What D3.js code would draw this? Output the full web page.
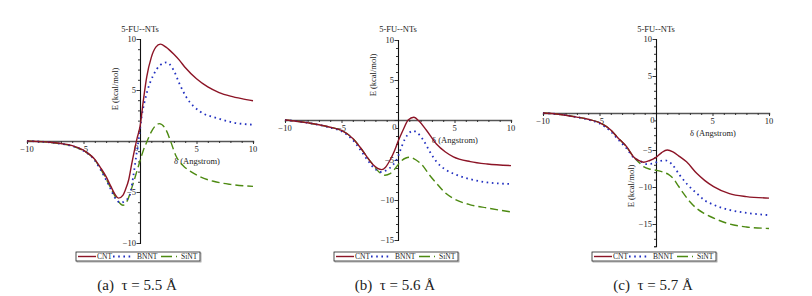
<!DOCTYPE html>
<html>
<head>
<meta charset="utf-8">
<script src="https://cdn.jsdelivr.net/npm/d3@7"></script>
<style>
  body { margin: 0; background: #fff; }
  svg { display: block; }
  text { font-family: "Liberation Serif", "Times New Roman", serif; fill: #222; }
</style>
</head>
<body>
<div class="graph"></div>
<script>
var W = 812, H = 296;

// series values: [delta, E]
var cntA = [[-10,0],[-9,-0.05],[-8,-0.12],[-7,-0.25],[-6,-0.45],[-5,-0.9],[-4,-1.8],[-3.5,-2.6],[-3,-3.5],[-2.6,-4.4],[-2.2,-5.25],[-1.9,-5.6],[-1.5,-5.3],[-1.3,-4.8],[-1.0,-3.8],[-0.75,-2.35],[-0.45,-0.7],[-0.25,0.3],[0,1.4],[0.3,4.0],[0.6,6.3],[1,8.2],[1.4,9.2],[1.8,9.5],[2.3,9.2],[3,8.5],[3.5,7.9],[4,7.2],[5,6.1],[6,5.3],[7,4.75],[8,4.4],[9,4.15],[10,3.95]];
var bnntA = [[-10,0],[-9,-0.05],[-8,-0.13],[-7,-0.27],[-6,-0.5],[-5,-0.95],[-4,-1.9],[-3.5,-2.8],[-3,-3.8],[-2.6,-4.7],[-2.2,-5.6],[-1.7,-6.05],[-1.3,-5.85],[-0.9,-5.3],[-0.6,-3.5],[-0.3,-1.2],[-0.1,0.3],[0.15,2.4],[0.6,4.7],[1.2,6.5],[1.8,7.45],[2.35,7.7],[2.95,7.0],[3.5,5.6],[4.1,4.3],[5.3,2.9],[6.8,2.25],[8.3,1.8],[10,1.6]];
var sinA = [[-10,0],[-9,-0.05],[-8,-0.13],[-7,-0.27],[-6,-0.5],[-5,-0.95],[-4,-1.85],[-3.5,-2.7],[-3,-3.7],[-2.5,-4.8],[-2,-5.8],[-1.5,-6.3],[-1.1,-5.8],[-0.7,-4.5],[-0.15,-2.5],[0.3,-0.9],[0.6,-0.1],[1.0,0.9],[1.7,1.7],[2.3,1.1],[2.7,0],[3.2,-1.5],[3.8,-2.4],[4.5,-3.0],[5.3,-3.5],[6.5,-3.95],[8,-4.25],[10,-4.45]];

var cntB = [[-10,0],[-9,-0.15],[-8,-0.35],[-7,-0.6],[-6,-0.9],[-5,-1.3],[-4,-2.3],[-3.3,-3.5],[-2.7,-4.7],[-2.2,-5.6],[-1.8,-6.05],[-1.45,-6.2],[-1.1,-5.9],[-0.7,-5.0],[-0.3,-3.8],[0,-2.7],[0.45,-1.25],[0.9,0],[1.4,0.35],[1.9,-0.2],[2.5,-1.25],[3.4,-3.0],[4.2,-4.0],[4.9,-4.6],[6.4,-5.2],[7.9,-5.5],[10,-5.7]];
var bnntB = [[-10,0],[-9,-0.15],[-8,-0.35],[-7,-0.62],[-6,-0.95],[-5,-1.4],[-4,-2.5],[-3.3,-3.8],[-2.7,-5.0],[-2.2,-5.9],[-1.5,-6.5],[-1.0,-6.25],[-0.5,-5.7],[-0.1,-4.9],[0.2,-3.8],[0.6,-2.4],[1.0,-1.6],[1.3,-1.35],[1.7,-1.6],[2.24,-2.5],[2.83,-4.0],[3.4,-5.2],[4.2,-6.2],[4.9,-6.7],[6.4,-7.4],[7.9,-7.8],[10,-8.0]];
var sinB = [[-10,0],[-9,-0.15],[-8,-0.35],[-7,-0.6],[-6,-0.9],[-5,-1.3],[-4,-2.3],[-3.3,-3.5],[-2.7,-4.7],[-2.2,-5.6],[-1.6,-6.6],[-1.15,-6.9],[-0.7,-6.7],[-0.3,-6.15],[0.3,-5.1],[0.7,-4.75],[1.05,-4.65],[1.6,-5.0],[2.24,-5.8],[2.8,-6.9],[3.4,-7.9],[4.1,-9.0],[4.9,-9.8],[6.4,-10.6],[7.9,-11.0],[10,-11.5]];

var cntC = [[-10,0],[-9,-0.1],[-8,-0.3],[-7,-0.55],[-6,-0.85],[-5,-1.3],[-4,-2.3],[-3.4,-3.3],[-2.6,-4.55],[-2.0,-5.9],[-1.5,-6.45],[-1.1,-6.65],[-0.6,-6.45],[0,-6.0],[0.5,-5.35],[1.0,-5.0],[1.5,-5.25],[2.1,-5.9],[2.7,-6.6],[3.6,-8.15],[4.3,-9.1],[5.1,-9.95],[6.5,-10.9],[8,-11.3],[10,-11.5]];
var bnntC = [[-10,0],[-9,-0.1],[-8,-0.3],[-7,-0.55],[-6,-0.9],[-5,-1.4],[-4,-2.5],[-3.4,-3.5],[-2.6,-4.8],[-2.0,-6.0],[-1.4,-6.5],[-0.8,-6.9],[-0.2,-6.8],[0.3,-6.5],[0.8,-6.4],[1.4,-6.9],[2.1,-8.4],[2.8,-9.7],[3.6,-10.85],[4.3,-11.8],[5.1,-12.4],[6.5,-13.1],[8,-13.5],[10,-13.8]];
var sinC = [[-10,0],[-9,-0.1],[-8,-0.3],[-7,-0.55],[-6,-0.85],[-5,-1.3],[-4,-2.3],[-3.4,-3.3],[-2.6,-4.6],[-2.0,-5.9],[-1.5,-6.7],[-1.1,-7.25],[-0.5,-7.6],[0.05,-7.75],[0.65,-8.0],[1.1,-8.3],[1.55,-8.9],[2.0,-9.9],[2.4,-10.8],[3.0,-12.0],[3.6,-12.9],[4.3,-13.6],[5.1,-14.2],[6.5,-15.0],[8,-15.4],[10,-15.6]];

// labels
var seriesNames = ["CNT", "BNNT", "SiNT"];
var captions = ["(a)  \u03c4 = 5.5 \u00c5", "(b)  \u03c4 = 5.6 \u00c5", "(c)  \u03c4 = 5.7 \u00c5"];
var title = "5-FU--NTs";
var xTitle = "\u03b4 (Angstrom)";
var yTitle = "E (kcal/mol)";
var xTicks = [-10, -5, 5, 10];
var yTicksA = [-10, -5, 5, 10];
var yTicksB = [-15, -10, -5, 5, 10];
var yTicksC = [-15, -10, -5, 5, 10];
var yDomA = [-10, 10], yDomB = [-15, 10], yDomC = [-18, 10];

var colors = ["#8c1426", "#2230c0", "#4d8a12"];
var dashes = [null, "1.6,3.6", "8,4"];

var panels = [
  {series: [cntA, bnntA, sinA], yDom: yDomA, yTicks: yTicksA, xr: [27, 253], yr: [243, 39], ylabY: 89, cap: captions[0]},
  {series: [cntB, bnntB, sinB], yDom: yDomB, yTicks: yTicksB, xr: [285, 511], yr: [240, 40], ylabY: 75, cap: captions[1]},
  {series: [cntC, bnntC, sinC], yDom: yDomC, yTicks: yTicksC, xr: [543, 769], yr: [246.2, 39], ylabY: 186, cap: captions[2]}
];

var svg = d3.select(".graph").append("svg")
  .attr("width", W).attr("height", H);

panels.forEach(function(p) {
  var x = d3.scaleLinear().domain([-10, 10]).range(p.xr);
  var y = d3.scaleLinear().domain(p.yDom).range(p.yr);
  var x0 = x(0), y0 = y(0);
  var g = svg.append("g");

  // x axis with minor ticks
  var xa = g.append("g").attr("transform", "translate(0," + y0 + ")")
    .call(d3.axisBottom(x).tickValues(d3.range(-10, 11)).tickSize(2).tickFormat(""));
  xa.select(".domain").attr("stroke", "#555").attr("stroke-width", 1.4);
  xa.selectAll(".tick line").attr("stroke", "#333");
  xa.selectAll(".tick").filter(function(d) { return d % 5 === 0; }).select("line").attr("y2", 3);
  g.selectAll(".xl").data(xTicks).enter().append("text")
    .attr("x", function(d) { return x(d); })
    .attr("y", y0 + 11)
    .attr("text-anchor", "middle")
    .attr("font-size", 8.5)
    .text(function(d) { return d < 0 ? "\u2212" + (-d) : d; });
  g.append("text").attr("x", x0 - 1.5).attr("y", y0 + 10)
    .attr("text-anchor", "end").attr("font-size", 8.5).text("0");

  // y axis with minor ticks
  var ya = g.append("g").attr("transform", "translate(" + x0 + ",0)")
    .call(d3.axisLeft(y).tickValues(d3.range(p.yDom[0], p.yDom[1] + 1)).tickSize(2).tickFormat(""));
  ya.select(".domain").attr("stroke", "#111").attr("stroke-width", 1.1);
  ya.selectAll(".tick line").attr("stroke", "#333");
  ya.selectAll(".tick").filter(function(d) { return d % 5 === 0; }).select("line").attr("x2", -3.5);
  g.selectAll(".yl").data(p.yTicks).enter().append("text")
    .attr("x", x0 - 4)
    .attr("y", function(d) { return y(d) + 3; })
    .attr("text-anchor", "end")
    .attr("font-size", 8.5)
    .text(function(d) { return d < 0 ? "\u2212" + (-d) : d; });

  // titles
  g.append("text").attr("x", x0).attr("y", 32).attr("text-anchor", "middle")
    .attr("font-size", 8.5).text(title);
  g.append("text").attr("x", x0 + 57).attr("y", y0 + 23).attr("text-anchor", "middle")
    .attr("font-size", 8.5).text(xTitle);
  g.append("text").attr("transform", "translate(" + (x0 - 22) + "," + p.ylabY + ") rotate(-90)")
    .attr("text-anchor", "middle").attr("font-size", 8.5).text(yTitle);

  // curves
  var line = d3.line()
    .x(function(d) { return x(d[0]); })
    .y(function(d) { return y(d[1]); })
    .curve(d3.curveMonotoneX);
  [2, 1, 0].forEach(function(i) {
    g.append("path").datum(p.series[i])
      .attr("d", line)
      .attr("fill", "none")
      .attr("stroke", colors[i])
      .attr("stroke-width", i === 1 ? 1.8 : 1.4)
      .attr("stroke-dasharray", dashes[i]);
  });

  // legend
  var lx = x0 - 64, ly = 252;
  g.append("rect").attr("x", lx + 1).attr("y", ly + 1).attr("width", 124).attr("height", 9)
    .attr("fill", "none").attr("stroke", "#999").attr("stroke-width", 0.8);
  g.append("rect").attr("x", lx).attr("y", ly).attr("width", 124).attr("height", 9)
    .attr("fill", "#fff").attr("stroke", "#222").attr("stroke-width", 0.8);
  var offs = [2, 37, 85], txtOff = [21, 61, 105], segLen = [18, 20, 16];
  seriesNames.forEach(function(name, i) {
    g.append("line")
      .attr("x1", lx + offs[i]).attr("x2", lx + offs[i] + segLen[i])
      .attr("y1", ly + 4.5).attr("y2", ly + 4.5)
      .attr("stroke", colors[i])
      .attr("stroke-width", i === 1 ? 1.8 : 1.4)
      .attr("stroke-dasharray", i === 2 ? "11,4,1.5,4" : dashes[i]);
    g.append("text").attr("x", lx + txtOff[i]).attr("y", ly + 7)
      .attr("font-size", 7.5).text(name);
  });

  // caption
  g.append("text").attr("x", x0 - 3).attr("y", 290).attr("text-anchor", "middle")
    .attr("font-size", 15).style("white-space", "pre").text(p.cap);
});
</script>
</body>
</html>
